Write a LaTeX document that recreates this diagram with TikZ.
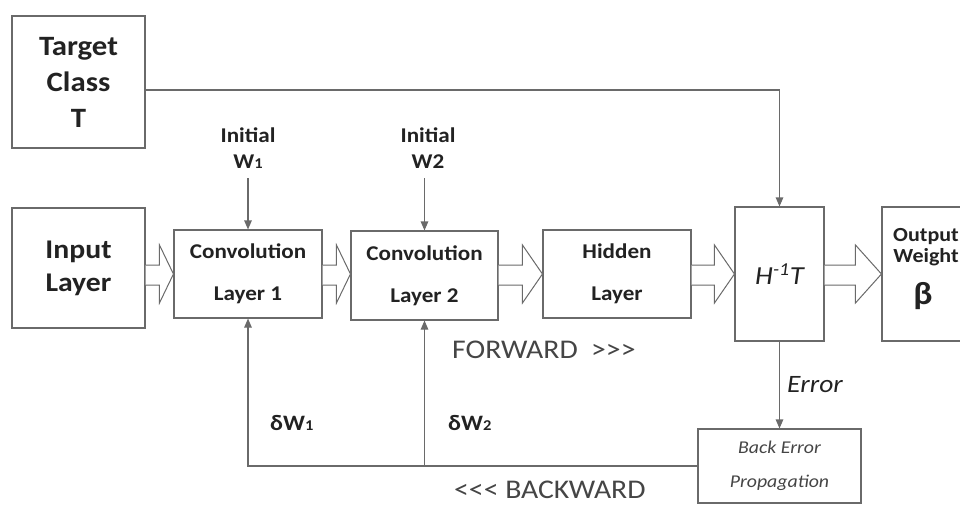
\documentclass[tikz,border=0pt]{standalone}
\usepackage{fontspec}
\setmainfont[FakeStretch=1.1]{Carlito}
\usetikzlibrary{arrows.meta,calc}
\definecolor{ln}{HTML}{6A6A6A}
\definecolor{tx}{HTML}{222222}
\definecolor{gtx}{HTML}{454545}
\newcommand\fs[2]{\fontsize{#1}{#2}\selectfont}
\newcommand\barrow[3]{%
  \draw[blk] (#1.east |- ya) -- ($(#2.west |- ya)+(-#3,0)$) -- ($(#2.west |- yc)+(-#3,0)$)
    -- (#2.west |- ym) -- ($(#2.west |- yd)+(-#3,0)$) -- ($(#2.west |- yb)+(-#3,0)$) -- (#1.east |- yb);}
\begin{document}
\begin{tikzpicture}[x=1pt,y=-1pt,
  box/.style={draw=ln,line width=1.1pt,fill=white,inner sep=0pt,align=center,text=tx},
  arr/.style={draw=ln,line width=1.1pt,-{Triangle[length=9pt,width=7.5pt]}},
  blk/.style={draw=ln,line width=1pt,fill=white,line join=miter},
  lbl/.style={inner sep=0pt,text=tx}]
\useasboundingbox (0,0) rectangle (960,504);
\clip (0,0) rectangle (960,504);
\coordinate (ya) at (0,265);
\coordinate (yb) at (0,285);
\coordinate (yc) at (0,245);
\coordinate (yd) at (0,303);
\coordinate (ym) at (0,274);

% boxes
\node[box,minimum width=133pt,minimum height=132pt,font=\bfseries\fs{28}{36}] (tgt) at (78.5,82) {Target\\Class\\T};
\node[box,minimum width=133pt,minimum height=120pt,font=\bfseries\fs{27}{33}] (inp) at (78.5,268) {Input\\Layer};
\node[box,minimum width=148pt,minimum height=88pt,font=\bfseries\fs{21}{42}] (c1) at (248,274) {Convolution\\Layer 1};
\node[box,minimum width=147pt,minimum height=89pt,font=\bfseries\fs{21}{42}] (c2) at (424.5,275.5) {Convolution\\Layer 2};
\node[box,minimum width=148pt,minimum height=88pt,font=\bfseries\fs{21}{42}] (hid) at (617,274) {Hidden\\Layer};
\node[box,minimum width=89pt,minimum height=134pt,font=\itshape\fs{26}{26}] (H) at (779.5,274) {H\textsuperscript{-1}T};
\node[box,minimum width=82pt,minimum height=134pt] (out) at (923,274) {};
\node[lbl,anchor=base,font=\bfseries\fs{20}{20}] (o1) at (926,241) {Output};
\node[lbl,anchor=base,font=\bfseries\fs{20}{20}] (o2) at (926,262) {Weight};
\node[lbl,anchor=base,font=\bfseries\fs{32}{32}] (o3) at (923,304) {β};
\node[box,minimum width=163pt,minimum height=74pt,font=\itshape\fs{18}{34},text=gtx] (bep) at (779.5,466) {Back Error\\Propagation};

% block arrows
\barrow{inp}{c1}{14}
\barrow{c1}{c2}{14}
\barrow{c2}{hid}{20}
\barrow{hid}{H}{20}
\barrow{H}{out}{26}

% initial weights
\node[lbl,anchor=south,align=center,font=\bfseries\fs{21}{26}] (w1) at (248,169) {Initial\\W{\fs{15}{15}1}};
\node[lbl,anchor=south,align=center,font=\bfseries\fs{21}{26}] (w2) at (428,169) {Initial\\W2};
\draw[arr] (c1.north |- 0,178) -- (c1.north);
\draw[arr] (c2.north |- 0,178) -- (c2.north);

% target line
\draw[arr] ([yshift=-8pt]tgt.east) -| (H.north);

% error
\draw[arr] (H.south) -- (bep.north);
\node[lbl,anchor=base west,font=\itshape\fs{25}{25}] (err) at (787,392) {Error};

% backward
\draw[arr] (bep.west) -| (c1.south);
\draw[arr] (c2.south |- bep.west) -- (c2.south);
\node[lbl,anchor=base west,font=\bfseries\fs{22}{22}] (d1) at (270,430) {δW{\fs{15}{15}1}};
\node[lbl,anchor=base west,font=\bfseries\fs{22}{22}] (d2) at (448,430) {δW{\fs{15}{15}2}};

\node[lbl,anchor=base west,font=\fs{27}{27},text=gtx] (fw) at (452,358) {FORWARD\ \ >{}>{}>};
\node[lbl,anchor=base west,font=\fs{27}{27},text=gtx] (bw) at (454,498) {<{}<{}< BACKWARD};
\end{tikzpicture}
\end{document}
